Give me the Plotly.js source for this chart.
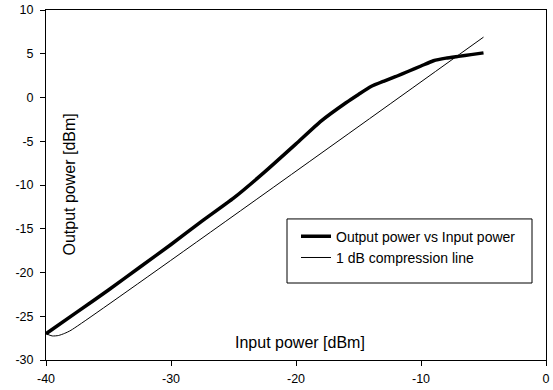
<!DOCTYPE html>
<html>
<head>
<meta charset="utf-8">
<script src="https://cdn.plot.ly/plotly-3.0.1.min.js"></script>
<style>html,body{margin:0;padding:0;background:#fff;}#chart{width:553px;height:390px;}</style>
</head>
<body>
<div id="chart"></div>
<script>
// Output power vs input power (thick curve)
const inputPower = [-40, -37.5, -35, -32.5, -30, -27.5, -25, -22.5, -20, -18, -16, -15, -14, -13, -12, -11, -10, -9, -8, -7, -6, -5];
const outputPower = [-27, -24.5, -22.0, -19.4, -16.8, -14.1, -11.5, -8.5, -5.3, -2.7, -0.6, 0.35, 1.25, 1.85, 2.4, 3.0, 3.6, 4.2, 4.5, 4.7, 4.9, 5.1];
// 1 dB compression line (thin)
const compInput = [-40, -39.5, -39, -38.5, -38, -5];
const compOutput = [-27, -27.25, -27.2, -26.95, -26.6, 6.9];

const xTicks = [-40, -30, -20, -10, 0];
const yTicks = [-30, -25, -20, -15, -10, -5, 0, 5, 10];
const xTickLabels = ['-40', '-30', '-20', '-10', '0'];
const yTickLabels = ['-30', '-25', '-20', '-15', '-10', '-5', '0', '5', '10'];

const FONT = 'Arial, "Liberation Sans", sans-serif';

const traces = [
  {x: inputPower, y: outputPower, type: 'scatter', mode: 'lines',
   name: 'Output power vs Input power', line: {color: '#000', width: 3.5, shape: 'spline', smoothing: 0.5}},
  {x: compInput, y: compOutput, type: 'scatter', mode: 'lines',
   name: '1 dB compression line', line: {color: '#000', width: 1, shape: 'spline', smoothing: 0.6}}
];

const axisCommon = {
  showgrid: false, zeroline: false, showline: true, linecolor: '#000', linewidth: 1,
  mirror: true, ticks: 'outside', ticklen: 5, tickcolor: '#000', tickwidth: 1,
  tickfont: {family: FONT, size: 12.5, color: '#000'}
};

const layout = {
  width: 553, height: 390,
  margin: {l: 46, r: 7, t: 10, b: 30},
  paper_bgcolor: '#fff', plot_bgcolor: '#fff',
  font: {family: FONT, size: 12, color: '#000'},
  xaxis: Object.assign({}, axisCommon, {range: [-40, 0], tickvals: xTicks, ticktext: xTickLabels, ticklabelstandoff: 2}),
  yaxis: Object.assign({}, axisCommon, {range: [-30, 10], tickvals: yTicks, ticktext: yTickLabels, ticklabelstandoff: 4}),
  showlegend: true,
  legend: {x: 0.5, y: 0.398, xanchor: 'left', yanchor: 'top',
           bgcolor: 'rgba(0,0,0,0)', borderwidth: 0,
           font: {family: FONT, size: 14, color: '#000'}},
  shapes: [{type: 'rect', xref: 'paper', yref: 'paper', x0: 0.482, x1: 0.972, y0: 0.22, y1: 0.403,
            line: {color: '#000', width: 1}, fillcolor: 'rgba(0,0,0,0)', layer: 'above'}],
  annotations: [
    {text: 'Output power [dBm]', xref: 'paper', yref: 'paper', x: 0.045, y: 0.5,
     xanchor: 'center', yanchor: 'middle',
     showarrow: false, textangle: -90, font: {family: FONT, size: 16, color: '#000'}},
    {text: 'Input power [dBm]', xref: 'paper', yref: 'paper', x: 0.508, y: 0.051,
     xanchor: 'center', yanchor: 'middle',
     showarrow: false, font: {family: FONT, size: 16, color: '#000'}}
  ]
};

Plotly.newPlot('chart', traces, layout, {staticPlot: true, displayModeBar: false});
</script>
</body>
</html>
